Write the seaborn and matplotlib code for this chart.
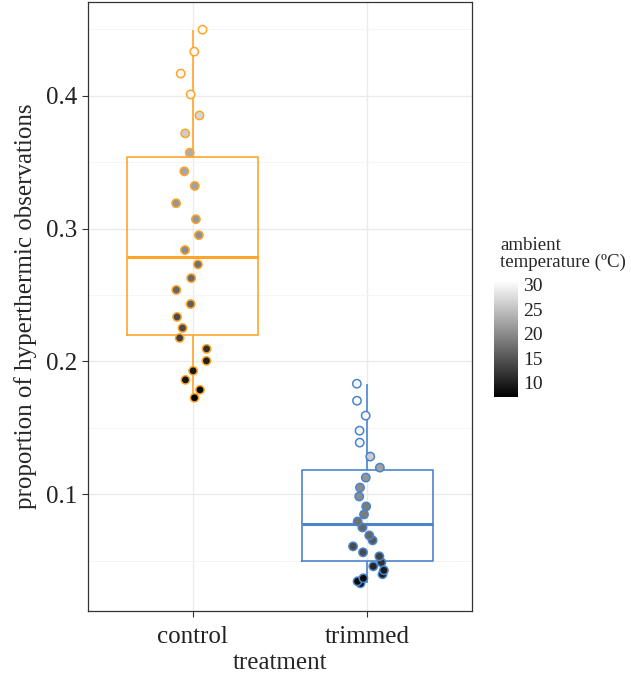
import numpy as np
import pandas as pd
import matplotlib
matplotlib.use("Agg")
import matplotlib.pyplot as plt
import seaborn as sns

# datos
grupos = ["control", "trimmed"]
prop_control = [0.1727, 0.1787, 0.1862, 0.1930, 0.2005, 0.2095, 0.2177, 0.2252, 0.2335,
                0.2432, 0.2538, 0.2627, 0.2730, 0.2838, 0.2950, 0.3070, 0.3190, 0.3320,
                0.3430, 0.3570, 0.3715, 0.3850, 0.4008, 0.4165, 0.4330, 0.4495]
temp_control = [7.5, 8, 9, 9.5, 10, 11.5, 13, 14, 14, 16, 16.5, 17, 17.5, 20, 20.5, 21,
                21, 22, 22.5, 23, 26, 27, 30, 30, 30.5, 30.5]
prop_trimmed = [0.0332, 0.0347, 0.0370, 0.0400, 0.0430, 0.0460, 0.0490, 0.0535, 0.0565,
                0.0610, 0.0655, 0.0692, 0.0752, 0.0797, 0.0850, 0.0910, 0.0985, 0.1052,
                0.1127, 0.1202, 0.1285, 0.1390, 0.1480, 0.1593, 0.1705, 0.1833]
temp_trimmed = [7.5, 7.5, 8, 9.5, 9.5, 10.5, 11.5, 13, 14, 14, 15, 16.5, 16.5, 17.5, 18.5,
                18.5, 20, 20, 21, 22, 26, 30, 30, 30, 30.5, 30.5]
ticks_temp = [10, 15, 20, 25, 30]

df = pd.DataFrame({
    "treatment": ["control"] * len(prop_control) + ["trimmed"] * len(prop_trimmed),
    "prop": prop_control + prop_trimmed,
    "temp": temp_control + temp_trimmed,
})

colores = {"control": "#FFA52A", "trimmed": "#4A85CC"}
tmin, tmax = 7, 30.8

sns.set_style("whitegrid")
plt.rcParams["font.family"] = ["Liberation Serif", "DejaVu Serif"]

fig = plt.figure(figsize=(6.31, 6.75), dpi=100)
ax = fig.add_axes([88 / 631, 1 - 611 / 675, 384 / 631, 609 / 675])

sns.boxplot(data=df, x="treatment", y="prop", hue="treatment", order=grupos,
            palette=colores, fill=False, width=0.75, showfliers=False, showcaps=False,
            linewidth=1.2, medianprops={"linewidth": 2.2}, legend=False, ax=ax, zorder=2)

np.random.seed(3)
for g in grupos:
    sns.stripplot(data=df[df.treatment == g], x="treatment", y="prop", order=grupos,
                  hue="temp", palette="gray", hue_norm=(tmin, tmax), jitter=0.1,
                  size=6, linewidth=1.1, edgecolor=colores[g], legend=False, ax=ax, zorder=3)

rango = df.prop.max() - df.prop.min()
ax.set_ylim(df.prop.min() - 0.05 * rango, df.prop.max() + 0.05 * rango)
ax.set_xlim(-0.6, 1.6)
ax.set_yticks([0.1, 0.2, 0.3, 0.4])
ax.set_yticklabels(["0.1", "0.2", "0.3", "0.4"])
ax.set_yticks([0.05, 0.15, 0.25, 0.35, 0.45], minor=True)
ax.grid(True, which="major", color="#EBEBEB", linewidth=1.0)
ax.grid(True, which="minor", axis="y", color="#F4F4F4", linewidth=0.6)
ax.set_axisbelow(True)
for s in ax.spines.values():
    s.set_color("#333333")
    s.set_linewidth(0.9)
ax.tick_params(axis="both", which="major", length=4, width=0.8, color="#333333",
               labelsize=18, labelcolor="#222222", direction="out",
               bottom=True, left=True)
ax.tick_params(axis="x", which="major", pad=7)
ax.tick_params(axis="y", which="minor", length=0)
ax.set_xlabel("treatment", fontsize=18, labelpad=3)
ax.set_ylabel("proportion of hyperthermic observations", fontsize=18, labelpad=7)

# barra de color
cax = fig.add_axes([494 / 631, 1 - 397 / 675, 24 / 631, 116 / 675])
sm = plt.cm.ScalarMappable(cmap="gray", norm=plt.Normalize(tmin, tmax))
cb = fig.colorbar(sm, cax=cax, ticks=ticks_temp)
cb.outline.set_visible(False)
cax.tick_params(length=4, color="white", width=0.8, direction="in", labelsize=14,
                labelcolor="#222222", left=True, right=True, labelleft=False, pad=4)
fig.text(500 / 631, 1 - 254 / 675, "ambient\ntemperature (ºC)", fontsize=13.6,
         ha="left", va="center", linespacing=1.05)

fig.savefig("out.png", dpi=100)
